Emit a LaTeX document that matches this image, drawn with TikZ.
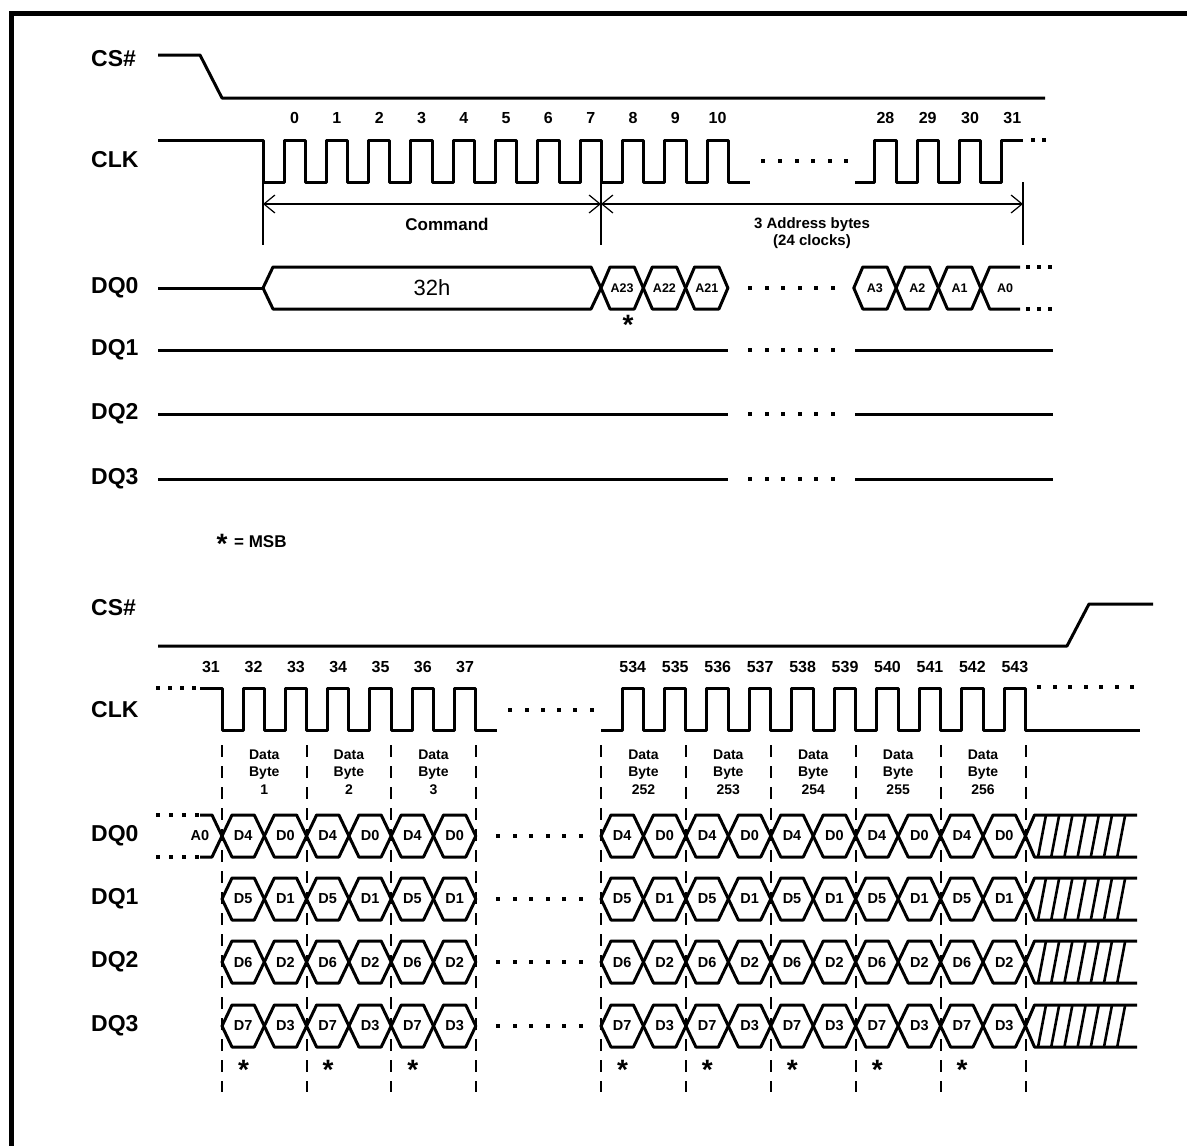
\documentclass[tikz,border=0pt]{standalone}
\usepackage{fontspec}
\setmainfont{Liberation Sans}
\usetikzlibrary{arrows.meta}
\newcommand\hexcell[7]{%
  \pgfmathsetmacro\hxa{#2}%
  \pgfmathsetmacro\hxb{#3}%
  \pgfmathsetmacro\hxm{(\hxa+\hxb)/2}%
  \draw[sig] (\hxa,#4) -- (\hxa+#5,#4-21) -- (\hxb-#5,#4-21) -- (\hxb,#4) -- (\hxb-#5,#4+21) -- (\hxa+#5,#4+21) -- cycle;
  \node[#6] (#1) at (\hxm,#4) {#7};}
\newcommand\dotsat[2]{\foreach \dx in {#2} {\fill (\dx-2,#1-1.8) rectangle (\dx+2,#1+1.8);}}
\begin{document}
\begin{tikzpicture}[x=1pt,y=-1pt,
  >={Straight Barb[length=11pt,width=18pt]},
  sig/.style={line width=3pt, line join=round},
  thinl/.style={line width=1.2pt},
  hatch/.style={line width=2.6pt},
  bdash/.style={line width=2pt, dash pattern=on 12pt off 9pt},
  lab/.style={font=\fontsize{23}{27}\selectfont\bfseries, anchor=west, inner sep=0},
  num/.style={font=\fontsize{16}{19}\selectfont\bfseries, inner sep=0},
  cell/.style={font=\fontsize{14.5}{17}\selectfont\bfseries, inner sep=0},
  acell/.style={font=\fontsize{12.5}{15}\selectfont\bfseries, inner sep=0},
  dbyte/.style={font=\fontsize{14}{17.5}\selectfont\bfseries, inner sep=0, align=center},
  star/.style={font=\fontsize{28}{32}\selectfont\bfseries, inner sep=0, anchor=base}]
\useasboundingbox (0,0) rectangle (1187,1146);
\def\P{42.3}
\def\Q{42.45}
\pgfmathsetmacro\cz{1023-4*\P}
% frame
\draw[line width=5pt] (11.5,1150) -- (11.5,13) -- (1192,13);
% ---------- labels ----------
\node[lab] (lcs1) at (91,59) {CS\#};
\node[lab] (lclk1) at (91,160) {CLK};
\node[lab] (ldq01) at (91,288) {DQ0};
\node[lab] (ldq11) at (91,350) {DQ1};
\node[lab] (ldq21) at (91,414) {DQ2};
\node[lab] (ldq31) at (91,479) {DQ3};
\node[lab] (lcs2) at (91,608) {CS\#};
\node[lab] (lclk2) at (91,710) {CLK};
\node[lab] (ldq02) at (91,836) {DQ0};
\node[lab] (ldq12) at (91,899) {DQ1};
\node[lab] (ldq22) at (91,962) {DQ2};
\node[lab] (ldq32) at (91,1026) {DQ3};
% ---------- top CS# ----------
\draw[sig] (158,55) -- (200,55) -- (222,98) -- (1045,98);
% ---------- top CLK ----------
\draw[sig] (158,140) -- (263,140) -- (263,182)
  \foreach \k in {0,...,10} { -- ({263+\k*\P+21},182) -- ({263+\k*\P+21},140) -- ({263+(\k+1)*\P},140) -- ({263+(\k+1)*\P},182) } -- (750,182);
\dotsat{161}{763,780,797,813,830,846}
\draw[sig] (855,182)
  \foreach \j in {0,1,2} { -- ({\cz+\j*\P+21},182) -- ({\cz+\j*\P+21},140) -- ({\cz+(\j+1)*\P},140) -- ({\cz+(\j+1)*\P},182) }
  -- ({\cz+3*\P+21},182) -- ({\cz+3*\P+21},140) -- (1023,140);
\dotsat{140}{1033,1044}
\foreach \k in {0,...,10} \node[num] (tn\k) at ({263+\k*\P+31.6},118) {\k};
\foreach \j/\lb in {0/28,1/29,2/30,3/31} \node[num] (tn\lb) at ({\cz+\j*\P+31.6},118) {\lb};
% dimension arrows
\coordinate (dA) at (263,204);
\coordinate (dB) at (601,204);
\coordinate (dC) at (1023,204);
\draw[thinl] (263,182) -- (263,245);
\draw[thinl] (601,182) -- (601,245);
\draw[thinl] (1023,182) -- (1023,245);
\draw[thinl, <->] (dA) -- (dB);
\draw[thinl, <->] (dB) -- (dC);
\node[font=\fontsize{17}{20}\selectfont\bfseries, inner sep=0] (cmd) at (447,224) {Command};
\node[font=\fontsize{15}{18}\selectfont\bfseries, inner sep=0] (addr1) at (812,225) {3 Address bytes};
\node[font=\fontsize{15}{18}\selectfont\bfseries, inner sep=0] (addr2) at (812,242) {(24 clocks)};
% ---------- top DQ0 ----------
\draw[sig] (158,288) -- (263,288);
\hexcell{c32h}{263}{601}{288}{10}{font=\fontsize{22}{26}\selectfont, inner sep=0}{32h}
\hexcell{a23}{601}{601+\P}{288}{9}{acell}{A23}
\hexcell{a22}{601+\P}{601+2*\P}{288}{9}{acell}{A22}
\hexcell{a21}{601+2*\P}{601+3*\P}{288}{9}{acell}{A21}
\dotsat{288}{750,767,783,800,816,833}
\hexcell{a3}{\cz}{\cz+\P}{288}{9}{acell}{A3}
\hexcell{a2}{\cz+\P}{\cz+2*\P}{288}{9}{acell}{A2}
\hexcell{a1}{\cz+2*\P}{\cz+3*\P}{288}{9}{acell}{A1}
\pgfmathsetmacro\xao{\cz+3*\P}
\draw[sig] (1020,267) -- (\xao+9,267) -- (\xao,288) -- (\xao+9,309) -- (1020,309);
\node[acell] (a0t) at (1005,288) {A0};
\dotsat{267}{1028,1039,1050}
\dotsat{309}{1028,1039,1050}
\node[star] (st0) at (628,334) {*};
% ---------- top DQ1..3 ----------
\foreach \yy in {350,414,479} {
  \draw[sig] (158,\yy) -- (728,\yy);
  \draw[sig] (855,\yy) -- (1053,\yy);
  \dotsat{\yy}{750,767,783,800,816,833}
}
% ---------- MSB note ----------
\node[star] (msbstar) at (222,553) {*};
\node[font=\fontsize{17}{20}\selectfont\bfseries, inner sep=0, anchor=west] (msb) at (234,542) {= MSB};
% ---------- bottom CS# ----------
\draw[sig] (158,646) -- (1067,646) -- (1089,604) -- (1153,604);
% ---------- bottom CLK ----------
\dotsat{688}{158,170,182,194}
\draw[sig] (200,688) -- (222,688) -- (222,730)
  \foreach \k in {0,...,5} { -- ({222+\k*\P+21},730) -- ({222+\k*\P+21},688) -- ({222+(\k+1)*\P},688) -- ({222+(\k+1)*\P},730) } -- (497,730);
\dotsat{710}{510,527,543,559,575,592}
\draw[sig] (601,730)
  \foreach \k in {0,...,9} { -- ({601+\k*\Q+21},730) -- ({601+\k*\Q+21},688) -- ({601+(\k+1)*\Q},688) -- ({601+(\k+1)*\Q},730) } -- (1140,730);
\dotsat{687}{1039,1054.5,1070,1085.5,1101,1116.5,1132}
\node[num] (bn31) at (211,667) {31};
\foreach \k/\lb in {0/32,1/33,2/34,3/35,4/36,5/37} \node[num] (bn\lb) at ({222+\k*\P+31.6},667) {\lb};
\foreach \k in {0,...,9} {\pgfmathtruncatemacro\lb{534+\k}\node[num] (bn\lb) at ({601+\k*\Q+31.8},667) {\lb};}
% data byte labels
\foreach \k/\lb in {0/1,1/2,2/3} \node[dbyte] (dbl\lb) at ({222+(2*\k+1)*\P},772) {Data\\Byte\\\lb};
\foreach \k/\lb in {0/252,1/253,2/254,3/255,4/256} \node[dbyte] (dbr\lb) at ({601+(2*\k+1)*\Q},772) {Data\\Byte\\\lb};
% dashed boundaries
\foreach \k in {0,1,2,3} \draw[bdash] ({222+2*\k*\P},745) -- ({222+2*\k*\P},1092);
\foreach \k in {0,...,5} \draw[bdash] ({601+2*\k*\Q},745) -- ({601+2*\k*\Q},1092);
% ---------- bottom DQ0 lead-in A0 ----------
\dotsat{815}{158,171,184,197}
\dotsat{857}{158,171,184,197}
\draw[sig] (200,815) -- (212,815) -- (222,836) -- (212,857) -- (200,857);
\node[cell] (a0b) at (200,836) {A0};
% ---------- bottom DQ rows ----------
\foreach \r/\yy/\ta/\tb in {0/836/D4/D0,1/899/D5/D1,2/962/D6/D2,3/1026/D7/D3} {
  \foreach \k in {0,1,2} {
    \hexcell{dl\r-a\k}{222+2*\k*\P}{222+(2*\k+1)*\P}{\yy}{10}{cell}{\ta}
    \hexcell{dl\r-b\k}{222+(2*\k+1)*\P}{222+(2*\k+2)*\P}{\yy}{10}{cell}{\tb}
  }
  \dotsat{\yy}{498,514.5,531,547.5,564,580.5}
  \foreach \k in {0,...,4} {
    \hexcell{dr\r-a\k}{601+2*\k*\Q}{601+(2*\k+1)*\Q}{\yy}{10}{cell}{\ta}
    \hexcell{dr\r-b\k}{601+(2*\k+1)*\Q}{601+(2*\k+2)*\Q}{\yy}{10}{cell}{\tb}
  }
  \pgfmathsetmacro\xe{601+10*\Q}
  \draw[sig] (1137,\yy-21) -- (\xe+9,\yy-21) -- (\xe,\yy) -- (\xe+9,\yy+21) -- (1137,\yy+21);
  \foreach \i in {0,...,6} \draw[hatch] (1038+13.2*\i,\yy+21) -- (1046+13.2*\i,\yy-21);
}
% stars
\foreach \k in {0,1,2} \node[star] (sbl\k) at ({222+2*\k*\P+21.5},1079) {*};
\foreach \k in {0,...,4} \node[star] (sbr\k) at ({601+2*\k*\Q+21.5},1079) {*};
\end{tikzpicture}
\end{document}
